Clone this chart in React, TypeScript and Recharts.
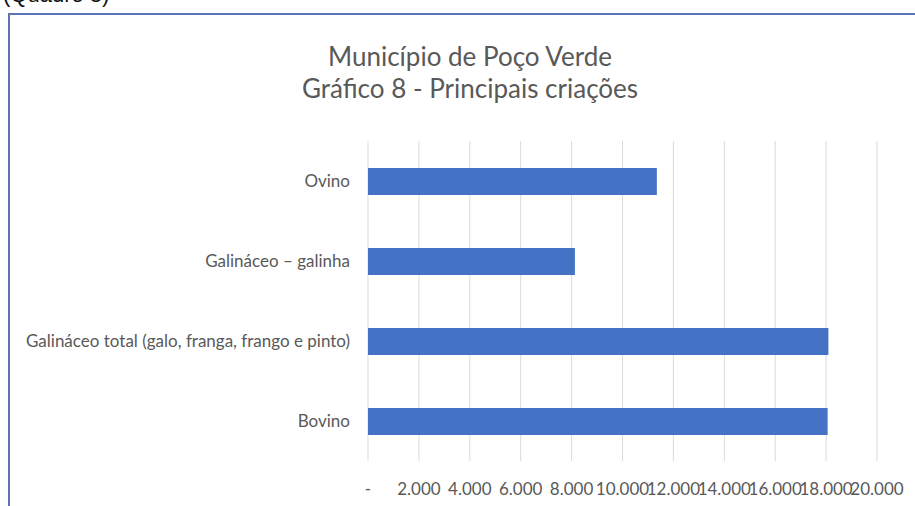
import { BarChart, Bar, XAxis, YAxis, CartesianGrid } from "recharts";

const categories = [
  "Ovino",
  "Galináceo – galinha",
  "Galináceo total (galo, franga, frango e pinto)",
  "Bovino",
];
const heads = [11350, 8130, 18090, 18060];
const xTicks = [0, 2000, 4000, 6000, 8000, 10000, 12000, 14000, 16000, 18000, 20000];

const titleLines = ["Município de Poço Verde", "Gráfico 8 - Principais criações"];

const data = categories.map((name, i) => ({ name, value: heads[i] }));

const FONT = "Lato, 'Open Sans', sans-serif";
const GREY = "#595959";

// excel accounting style: zero shows as a dash, dots for thousands
const fmt = (v: number) =>
  v === 0 ? "-" : String(v).replace(/\B(?=(\d{3})+(?!\d))/g, ".");

export default function App() {
  return (
    <div
      style={{
        position: "fixed",
        left: 0,
        top: 0,
        width: 915,
        height: 506,
        overflow: "hidden",
        background: "#fff",
        fontFamily: FONT,
      }}
    >
      <span
        style={{
          position: "absolute",
          left: 3,
          top: -16,
          fontSize: 22,
          lineHeight: "22px",
          fontFamily: "'Liberation Sans', sans-serif",
          color: "#111",
          whiteSpace: "nowrap",
        }}
      >
        (Quadro 8)
      </span>
      <div
        style={{
          position: "absolute",
          left: 8,
          top: 13,
          width: 1000,
          height: 1000,
          border: "2px solid #5b74b4",
          boxSizing: "border-box",
        }}
      />
      <div
        style={{
          position: "absolute",
          left: 0,
          top: 40,
          width: 940,
          textAlign: "center",
          fontSize: 26,
          lineHeight: "32px",
          color: GREY,
        }}
      >
        {titleLines.map((t) => (
          <div key={t}>{t}</div>
        ))}
      </div>
      <div style={{ position: "absolute", left: 0, top: 0 }}>
        <BarChart
          width={915}
          height={506}
          data={data}
          layout="vertical"
          margin={{ top: 141, right: 38, bottom: 15, left: 0 }}
        >
          <CartesianGrid horizontal={false} stroke="#d9d9d9" />
          <XAxis
            type="number"
            domain={[0, 20000]}
            ticks={xTicks}
            interval={0}
            tickFormatter={fmt}
            axisLine={false}
            tickLine={false}
            tickSize={0}
            tickMargin={22}
            height={30}
            tick={{ fill: GREY, fontSize: 17, fontFamily: FONT }}
          />
          <YAxis
            type="category"
            dataKey="name"
            width={368}
            axisLine={false}
            tickLine={false}
            tickSize={0}
            tickMargin={18}
            interval={0}
            tick={{ fill: GREY, fontSize: 17, fontFamily: FONT }}
          />
          <Bar dataKey="value" fill="#4472c4" barSize={27} isAnimationActive={false} />
        </BarChart>
      </div>
    </div>
  );
}
